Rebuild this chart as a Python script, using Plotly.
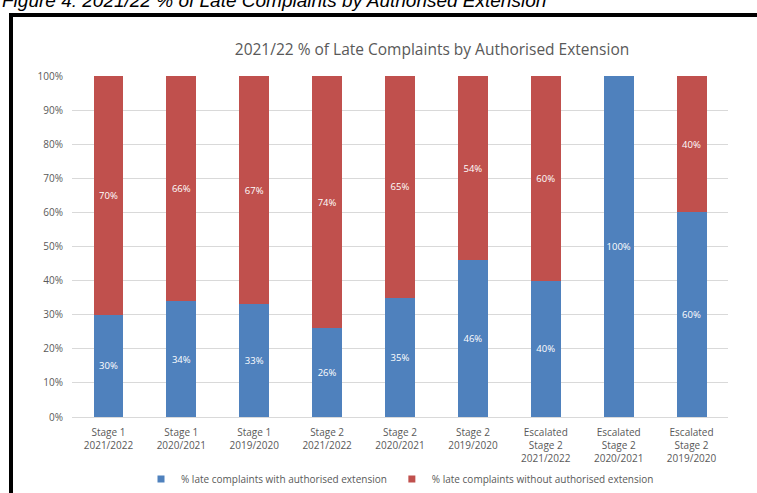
import plotly.graph_objects as go

categories = [
    "Stage 1<br>2021/2022", "Stage 1<br>2020/2021", "Stage 1<br>2019/2020",
    "Stage 2<br>2021/2022", "Stage 2<br>2020/2021", "Stage 2<br>2019/2020",
    "Escalated<br>Stage 2<br>2021/2022", "Escalated<br>Stage 2<br>2020/2021",
    "Escalated<br>Stage 2<br>2019/2020",
]
with_ext = [30, 34, 33, 26, 35, 46, 40, 100, 60]
without_ext = [70, 66, 67, 74, 65, 54, 60, 0, 40]
y_ticks = [0, 10, 20, 30, 40, 50, 60, 70, 80, 90, 100]
y_tick_text = [f"{v}%" for v in y_ticks]

name_with = "% late complaints with authorised extension"
name_without = "% late complaints without authorised extension"
BLUE = "#4F81BD"
RED = "#C0504D"
GREY = "#595959"

W, H = 757, 493
L, R, T, B = 72, 728, 76, 417


def px(x):
    return (x - L) / (R - L)


def py(y):
    return (B - y) / (B - T)


def labels(vals):
    return [f"{v}%" if v else "" for v in vals]


label_font = dict(color="white", size=9.5, family="Open Sans")

fig = go.Figure()
fig.add_trace(go.Bar(
    x=categories, y=with_ext, name=name_with, marker_color=BLUE,
    marker_line_width=0,
    text=labels(with_ext), textposition="inside", insidetextanchor="middle",
    textangle=0, textfont=label_font, constraintext="none",
    showlegend=False,
))
fig.add_trace(go.Bar(
    x=categories, y=without_ext, name=name_without, marker_color=RED,
    marker_line_width=0,
    text=labels(without_ext), textposition="inside", insidetextanchor="middle",
    textangle=0, textfont=label_font, constraintext="none",
    showlegend=False,
))
# legend entries (small square markers as in the original)
fig.add_trace(go.Scatter(x=[None], y=[None], mode="markers", name=name_with,
                         marker=dict(symbol="square", size=7, color=BLUE)))
fig.add_trace(go.Scatter(x=[None], y=[None], mode="markers", name=name_without,
                         marker=dict(symbol="square", size=7, color=RED)))

fig.update_layout(
    width=W, height=H,
    margin=dict(l=L, r=W - R, t=T, b=H - B, pad=0, autoexpand=False),
    barmode="stack", bargap=0.59,
    plot_bgcolor="white", paper_bgcolor="white",
    font=dict(family="Open Sans", color=GREY, size=10),
    title=dict(text="2021/22 % of Late Complaints by Authorised Extension",
               x=432 / W, xanchor="center", y=1 - 50 / H, yanchor="middle",
               font=dict(size=15.5, color=GREY, family="Open Sans")),
    legend=dict(orientation="h", x=0.5, xanchor="center",
                yref="container", y=1 - 479 / H,
                yanchor="middle", itemwidth=30,
                font=dict(size=10, color=GREY), traceorder="normal"),
    xaxis=dict(showgrid=False, showline=True, linecolor="#D9D9D9", linewidth=1,
               ticks="", automargin=False, ticklabelstandoff=6,
               tickfont=dict(size=10, color=GREY)),
    yaxis=dict(range=[0, 100], tickvals=y_ticks, ticktext=y_tick_text,
               showgrid=True, gridcolor="#D9D9D9", gridwidth=1,
               zeroline=False, showline=False, ticks="", automargin=False,
               ticklabelstandoff=8, tickfont=dict(size=10, color=GREY)),
    shapes=[dict(type="rect", xref="paper", yref="paper",
                 x0=px(11), x1=px(800), y0=py(560), y1=py(15),
                 line=dict(color="black", width=4), fillcolor="rgba(0,0,0,0)",
                 layer="above")],
    annotations=[dict(text="<i>Figure 4: 2021/22 % of Late Complaints by Authorised Extension</i>",
                      xref="paper", yref="paper", x=px(0), y=py(13),
                      xanchor="left", yanchor="bottom", showarrow=False,
                      font=dict(size=19, color="black", family="Liberation Sans"))],
)

fig.write_html("out.html")
